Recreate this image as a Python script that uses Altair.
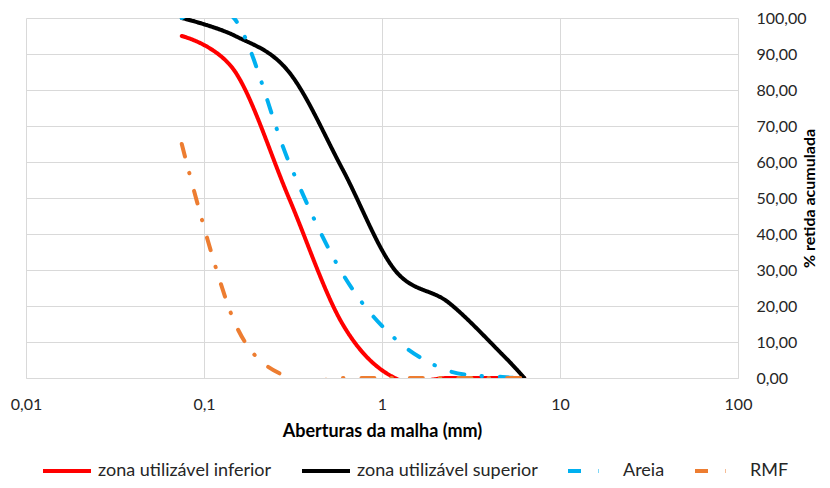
import altair as alt
import pandas as pd

sieves = [0.075, 0.15, 0.3, 0.6, 1.18, 2.36, 4.75, 6.3]
inferior = [95, 85, 50, 15, 0, 0, 0, 0]
superior = [100, 95, 85, 58, 30, 21, 6.5, 0]
areia = [100, 99.5, 60, 29, 11, 2, 0.3, 0]
rmf = [65, 15, 0, 0, 0, 0, 0, 0]

series_names = ["zona utilizável inferior", "zona utilizável superior", "Areia", "RMF"]
colors = ["#FF0000", "#000000", "#00B0F0", "#ED7D31"]
dashes = [[1, 0], [1, 0], [13, 17, 0.5, 18], [13, 17, 0.5, 18]]

x_ticks = [0.01, 0.1, 1, 10, 100]
y_ticks = list(range(0, 101, 10))

rows = []
for i, (name, vals) in enumerate(zip(series_names, [inferior, superior, areia, rmf])):
    for s, v in zip(sieves, vals):
        rows.append({"serie": name, "abertura": s, "retida": v, "ordem": i})
df = pd.DataFrame(rows)

FONT = "Lato"

legend_common = dict(
    title=None,
    orient="none",
    legendX=15,
    legendY=427,
    direction="horizontal",
    columns=4,
    symbolType="stroke",
    symbolSize=2304,
    symbolStrokeWidth=4,
    labelFontSize=18,
    labelFont=FONT,
    labelColor="#262626",
    labelLimit=400,
    columnPadding=22,
    labelOffset=5,
    padding=0,
)

chart = (
    alt.Chart(df)
    .mark_line(strokeWidth=4, interpolate="cardinal", clip=True, strokeCap="round")
    .encode(
        x=alt.X(
            "abertura:Q",
            scale=alt.Scale(type="log", domain=[0.01, 100]),
            axis=alt.Axis(
                values=x_ticks,
                labelExpr="replace(toString(datum.value), '.', ',')",
                title="Aberturas da malha (mm)",
                ticks=False,
                labelFlush=False,
                labelPadding=18,
                labelFontSize=16,
                labelFont=FONT,
                labelColor="#262626",
                titleFont=FONT,
                titleFontSize=18,
                titleFontWeight="bold",
                titleColor="#000000",
                titlePadding=10,
                domainColor="#D9D9D9",
                gridColor="#D9D9D9",
            ),
        ),
        y=alt.Y(
            "retida:Q",
            scale=alt.Scale(domain=[0, 100]),
            axis=alt.Axis(
                orient="right",
                values=y_ticks,
                labelExpr="replace(format(datum.value, '.2f'), '.', ',')",
                title="% retida acumulada",
                titleAngle=270,
                ticks=False,
                domain=False,
                labelFlush=False,
                labelPadding=18,
                labelFontSize=16,
                labelFont=FONT,
                labelColor="#262626",
                titleFont=FONT,
                titleFontSize=16,
                titleFontWeight="bold",
                titleColor="#000000",
                titlePadding=11,
                gridColor="#D9D9D9",
            ),
        ),
        color=alt.Color(
            "serie:N",
            scale=alt.Scale(domain=series_names, range=colors),
            legend=alt.Legend(**legend_common),
        ),
        strokeDash=alt.StrokeDash(
            "serie:N",
            scale=alt.Scale(domain=series_names, range=dashes),
            legend=alt.Legend(**legend_common),
        ),
        order=alt.Order("ordem:Q"),
    )
    .properties(
        width=712,
        height=360,
        autosize=alt.AutoSizeParams(type="none"),
        padding={"left": 18, "top": 10, "right": 84, "bottom": 102},
    )
    .configure_view(stroke=None)
)

chart.save("out.html", embed_options={"renderer": "svg", "actions": False})
